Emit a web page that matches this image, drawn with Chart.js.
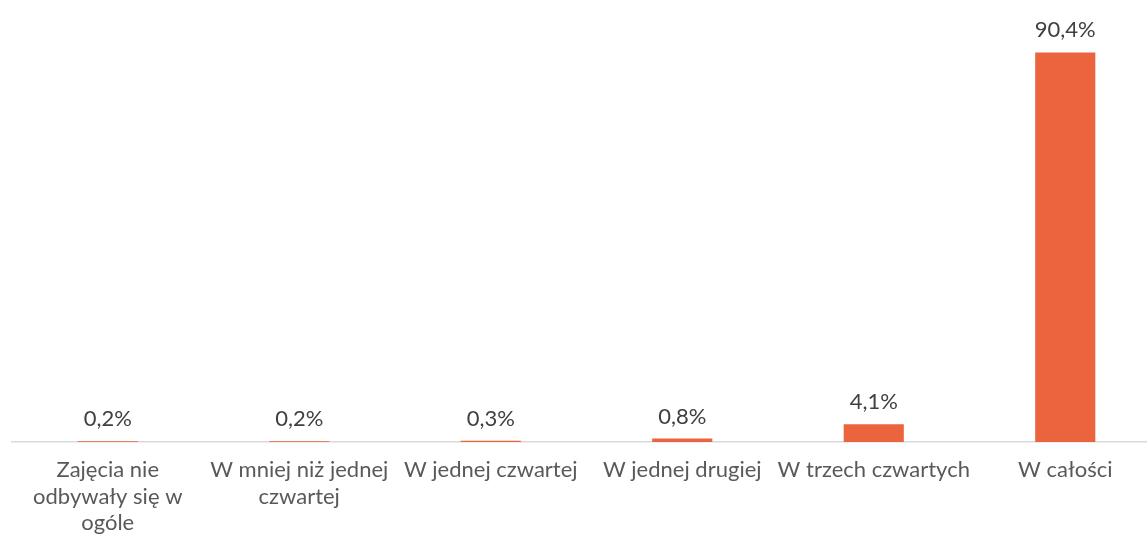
<!DOCTYPE html>
<html>
<head>
<meta charset="utf-8">
<script src="https://cdn.jsdelivr.net/npm/chart.js@4"></script>
<style>
  html, body { margin: 0; padding: 0; background: #fff; overflow: hidden; }
  #wrap { width: 1161px; height: 542px; position: relative; }
</style>
</head>
<body>
<div id="wrap"><canvas id="c"></canvas></div>
<script>
const categories = [
  ["Zajęcia nie", "odbywały się w", "ogóle"],
  ["W mniej niż jednej", "czwartej"],
  "W jednej czwartej",
  "W jednej drugiej",
  "W trzech czwartych",
  "W całości"
];
const values = [0.2, 0.2, 0.3, 0.8, 4.1, 90.4];
const valueLabels = ["0,2%", "0,2%", "0,3%", "0,8%", "4,1%", "90,4%"];

const FONT = "Lato, 'Open Sans', sans-serif";

const dataLabelPlugin = {
  id: 'dataLabels',
  afterDatasetsDraw(chart) {
    const ctx = chart.ctx;
    const meta = chart.getDatasetMeta(0);
    ctx.save();
    ctx.fillStyle = '#404040';
    ctx.font = '22px ' + FONT;
    ctx.textAlign = 'center';
    ctx.textBaseline = 'middle';
    meta.data.forEach((bar, i) => {
      ctx.fillText(valueLabels[i], bar.x, bar.y - 22);
    });
    ctx.restore();
  }
};

new Chart(document.getElementById('c'), {
  type: 'bar',
  data: {
    labels: categories,
    datasets: [{
      data: values,
      backgroundColor: '#EB643D',
      borderWidth: 0,
      categoryPercentage: 1.0,
      barPercentage: 0.314
    }]
  },
  options: {
    responsive: true,
    maintainAspectRatio: false,
    animation: false,
    layout: { padding: { left: 12, top: 11, right: 0, bottom: 0 } },
    plugins: { legend: { display: false }, tooltip: { enabled: false } },
    scales: {
      x: {
        grid: { display: false, drawTicks: false },
        border: { display: true, color: '#d9d9d9', width: 1.5 },
        ticks: {
          color: '#595959',
          font: { family: FONT, size: 22, lineHeight: 1.2 },
          padding: 15,
          maxRotation: 0,
          autoSkip: false
        },
        afterFit(scale) { scale.height = 100; }
      },
      y: {
        display: false,
        min: 0,
        max: 100
      }
    }
  },
  plugins: [dataLabelPlugin]
});
</script>
</body>
</html>
